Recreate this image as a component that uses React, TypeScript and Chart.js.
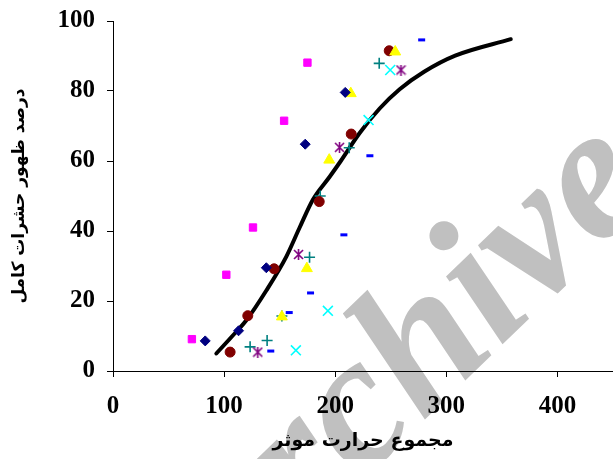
import React, { useEffect, useRef } from 'react';
import { Chart, registerables } from 'chart.js';

Chart.register(...registerables);

// Series values ([effective heat sum, % adult emergence])
const navyDiamonds = [[83, 8.6], [113, 11.5], [138, 29.5], [173, 64.8], [209, 79.6]];
const magentaSquares = [[71, 9.1], [102, 27.5], [126, 41], [154, 71.5], [175, 88.1]];
const yellowTriangles = [[152, 15.5], [174.5, 29.3], [194.6, 60.3], [214, 79.3], [254, 91.2]];
const cyanCrosses = [[164.6, 5.9], [193.4, 17.2], [230, 71.7], [249.5, 86]];
const purpleStars = [[130.3, 5.4], [167, 33.3], [203.9, 63.9], [259.2, 86]];
const redCircles = [[105.4, 5.4], [121.3, 15.8], [145, 29.2], [185.6, 48.4], [214.4, 67.7], [248.6, 91.5]];
const tealPluses = [[123.4, 6.9], [138.7, 8.7], [152, 15.7], [176.9, 32.5], [186.5, 50], [212.6, 63.8], [239.6, 87.9]];
const blueDashes = [[142, 5.7], [158.6, 16.7], [177.8, 22.3], [207.8, 38.9], [231.2, 61.5], [277.8, 94.6]];

// Fitted curve
const fitX = [93, 106, 120, 138, 156, 168, 180, 195, 205, 222, 240, 258, 280, 308, 358];
const fitY = [5, 9.5, 14.5, 23, 32.7, 41, 49, 55.5, 60, 68, 75, 80.5, 85.5, 90.1, 94.8];

const xTicks = [0, 100, 200, 300, 400];
const yTicks = [0, 20, 40, 60, 80, 100];

const xTitle = 'مجموع حرارت موثر';
const yTitle = 'درصد ظهور حشرات کامل';

const toPts = (arr: number[][]) => arr.map(([x, y]) => ({ x, y }));

function makeAsterisk(color: string, size: number) {
  const c = document.createElement('canvas');
  c.width = size;
  c.height = size;
  const ctx = c.getContext('2d')!;
  ctx.strokeStyle = color;
  ctx.lineWidth = 1.6;
  const m = 1;
  ctx.beginPath();
  ctx.moveTo(m, m);
  ctx.lineTo(size - m, size - m);
  ctx.moveTo(size - m, m);
  ctx.lineTo(m, size - m);
  ctx.moveTo(size / 2, 0);
  ctx.lineTo(size / 2, size);
  ctx.stroke();
  return c;
}

const watermark = {
  id: 'watermark',
  beforeDraw(chart: any) {
    const ctx = chart.ctx;
    ctx.save();
    ctx.translate(215, 622);
    ctx.rotate((-44 * Math.PI) / 180);
    ctx.font = 'italic bold 192px "Liberation Serif"';
    ctx.fillStyle = '#C0C0C0';
    ctx.textBaseline = 'alphabetic';
    ctx.fillText('Archive', 0, 0);
    ctx.restore();
  },
};

export default function App() {
  const ref = useRef<HTMLCanvasElement | null>(null);

  useEffect(() => {
    if (!ref.current) return;
    const tickFont = { family: '"Liberation Serif", "Times New Roman", serif', size: 25, weight: 'bold' as const };
    const xTitleFont = { family: '"DejaVu Sans", sans-serif', size: 19, weight: 'bold' as const };
    const yTitleFont = { family: '"DejaVu Sans", sans-serif', size: 17, weight: 'bold' as const };
    const chart = new Chart(ref.current, {
      type: 'scatter',
      data: {
        datasets: [
          { label: 's1', data: toPts(navyDiamonds), pointStyle: 'rectRot', pointRadius: 5, backgroundColor: '#000080', borderColor: '#000080', borderWidth: 1 },
          { label: 's2', data: toPts(magentaSquares), pointStyle: 'rect', pointRadius: 5.2, backgroundColor: '#FF00FF', borderColor: '#FF00FF', borderWidth: 1 },
          { label: 's3', data: toPts(yellowTriangles), pointStyle: 'triangle', pointRadius: 6.3, backgroundColor: '#FFFF00', borderColor: '#FFFF00', borderWidth: 1 },
          { label: 's4', data: toPts(cyanCrosses), pointStyle: 'crossRot', pointRadius: 7, backgroundColor: '#00FFFF', borderColor: '#00FFFF', borderWidth: 1.6 },
          { label: 's5', data: toPts(purpleStars), pointStyle: makeAsterisk('#800080', 11) as any, pointRadius: 6, backgroundColor: '#800080', borderColor: '#800080', borderWidth: 1 },
          { label: 's6', data: toPts(redCircles), pointStyle: 'circle', pointRadius: 5, backgroundColor: '#800000', borderColor: '#800000', borderWidth: 1 },
          { label: 's7', data: toPts(tealPluses), pointStyle: 'cross', pointRadius: 5.5, backgroundColor: '#008080', borderColor: '#008080', borderWidth: 1.6 },
          { label: 's8', data: toPts(blueDashes), pointStyle: 'line', pointRadius: 3.5, backgroundColor: '#0000FF', borderColor: '#0000FF', borderWidth: 3 },
          {
            label: 'fit',
            data: fitX.map((x, i) => ({ x, y: fitY[i] })),
            showLine: true,
            borderColor: '#000000',
            backgroundColor: '#000000',
            borderWidth: 4,
            pointRadius: 0,
            cubicInterpolationMode: 'monotone',
            borderCapStyle: 'round',
            borderJoinStyle: 'round',
          } as any,
        ],
      },
      options: {
        responsive: true,
        maintainAspectRatio: false,
        animation: false,
        layout: { autoPadding: false, padding: { top: 21, right: 0, left: 0, bottom: 0 } },
        plugins: { legend: { display: false }, tooltip: { enabled: false } },
        scales: {
          x: {
            type: 'linear',
            min: 0,
            max: 450,
            afterBuildTicks: (scale: any) => {
              scale.ticks = xTicks.map((v) => ({ value: v }));
            },
            afterFit: (scale: any) => {
              scale.height = 88;
              scale.paddingLeft = 0;
              scale.paddingRight = 0;
            },
            ticks: { font: tickFont, color: '#000', padding: 15, maxRotation: 0 },
            grid: { display: true, drawOnChartArea: false, drawTicks: true, tickLength: 6, color: '#000' },
            border: { display: true, color: '#000', width: 1 },
            title: { display: true, text: xTitle, font: xTitleFont, color: '#000', padding: { top: 0, bottom: 7 } },
          },
          y: {
            type: 'linear',
            min: 0,
            max: 100,
            afterBuildTicks: (scale: any) => {
              scale.ticks = yTicks.map((v) => ({ value: v }));
            },
            afterFit: (scale: any) => {
              scale.width = 113;
              scale.paddingTop = 0;
              scale.paddingBottom = 0;
            },
            ticks: { font: tickFont, color: '#000', padding: 12 },
            grid: { display: true, drawOnChartArea: false, drawTicks: true, tickLength: 6, color: '#000' },
            border: { display: true, color: '#000', width: 1 },
            title: { display: true, text: yTitle, font: yTitleFont, color: '#000', padding: { top: 9, bottom: 0 } },
          },
        },
      },
      plugins: [watermark],
    });
    return () => chart.destroy();
  }, []);

  return (
    <div style={{ position: 'absolute', left: 0, top: 0, width: 613, height: 459, background: '#fff' }}>
      <canvas ref={ref} />
    </div>
  );
}
